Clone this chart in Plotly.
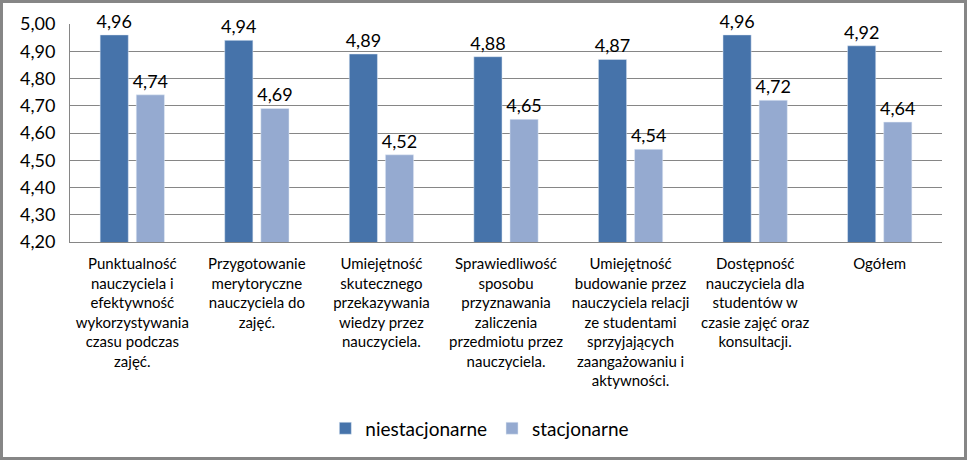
import plotly.graph_objects as go

categories = [
    "Punktualność<br>nauczyciela i<br>efektywność<br>wykorzystywania<br>czasu podczas<br>zajęć.",
    "Przygotowanie<br>merytoryczne<br>nauczyciela do<br>zajęć.",
    "Umiejętność<br>skutecznego<br>przekazywania<br>wiedzy przez<br>nauczyciela.",
    "Sprawiedliwość<br>sposobu<br>przyznawania<br>zaliczenia<br>przedmiotu przez<br>nauczyciela.",
    "Umiejętność<br>budowanie przez<br>nauczyciela relacji<br>ze studentami<br>sprzyjających<br>zaangażowaniu i<br>aktywności.",
    "Dostępność<br>nauczyciela dla<br>studentów w<br>czasie zajęć oraz<br>konsultacji.",
    "Ogółem",
]
niestacjonarne = [4.96, 4.94, 4.89, 4.88, 4.87, 4.96, 4.92]
stacjonarne = [4.74, 4.69, 4.52, 4.65, 4.54, 4.72, 4.64]

FONT = "Lato, Carlito, Calibri, sans-serif"

fig = go.Figure()
fig.add_trace(go.Bar(
    x=categories, y=niestacjonarne, name="niestacjonarne",
    marker_color="#4673AA", texttemplate="%{y:.2f}", textposition="outside",
    textfont=dict(size=18, color="#000"), cliponaxis=False, constraintext="none",
))
fig.add_trace(go.Bar(
    x=categories, y=stacjonarne, name="stacjonarne",
    marker_color="#95AAD0", texttemplate="%{y:.2f}", textposition="outside",
    textfont=dict(size=18, color="#000"), cliponaxis=False, constraintext="none",
))

L, R, T, B = 70, 25, 24, 218
pw = 967 - L - R
ph = 460 - T - B

fig.update_layout(
    width=967, height=460,
    margin=dict(l=L, r=R, t=T, b=B),
    separators=", ",
    barmode="group", bargap=0.42, bargroupgap=0.22,
    plot_bgcolor="white", paper_bgcolor="white",
    font=dict(family=FONT, color="#000"),
    showlegend=True,
    legend=dict(orientation="h", x=0.47, xanchor="center", y=-0.855, yanchor="middle",
                font=dict(size=19), itemwidth=30, traceorder="normal"),
    xaxis=dict(showline=True, linecolor="#868686", linewidth=1, ticks="",
               tickfont=dict(size=15), tickangle=0, automargin=False,
               ticklabelstandoff=8),
    yaxis=dict(range=[4.2, 5.0], dtick=0.1, tickformat=".2f", showgrid=True,
               gridcolor="#868686", gridwidth=1, showline=True, linecolor="#868686",
               linewidth=1, ticks="", ticklabelstandoff=10,
               tickfont=dict(size=18), zeroline=False, automargin=False),
    shapes=[dict(type="rect", xref="paper", yref="paper",
                 x0=-(L - 1.5) / pw, x1=1 + (R - 1.5) / pw,
                 y0=-(B - 1.5) / ph, y1=1 + (T - 1.5) / ph,
                 line=dict(color="#868686", width=3), layer="above")],
)

fig.write_html("out.html")
